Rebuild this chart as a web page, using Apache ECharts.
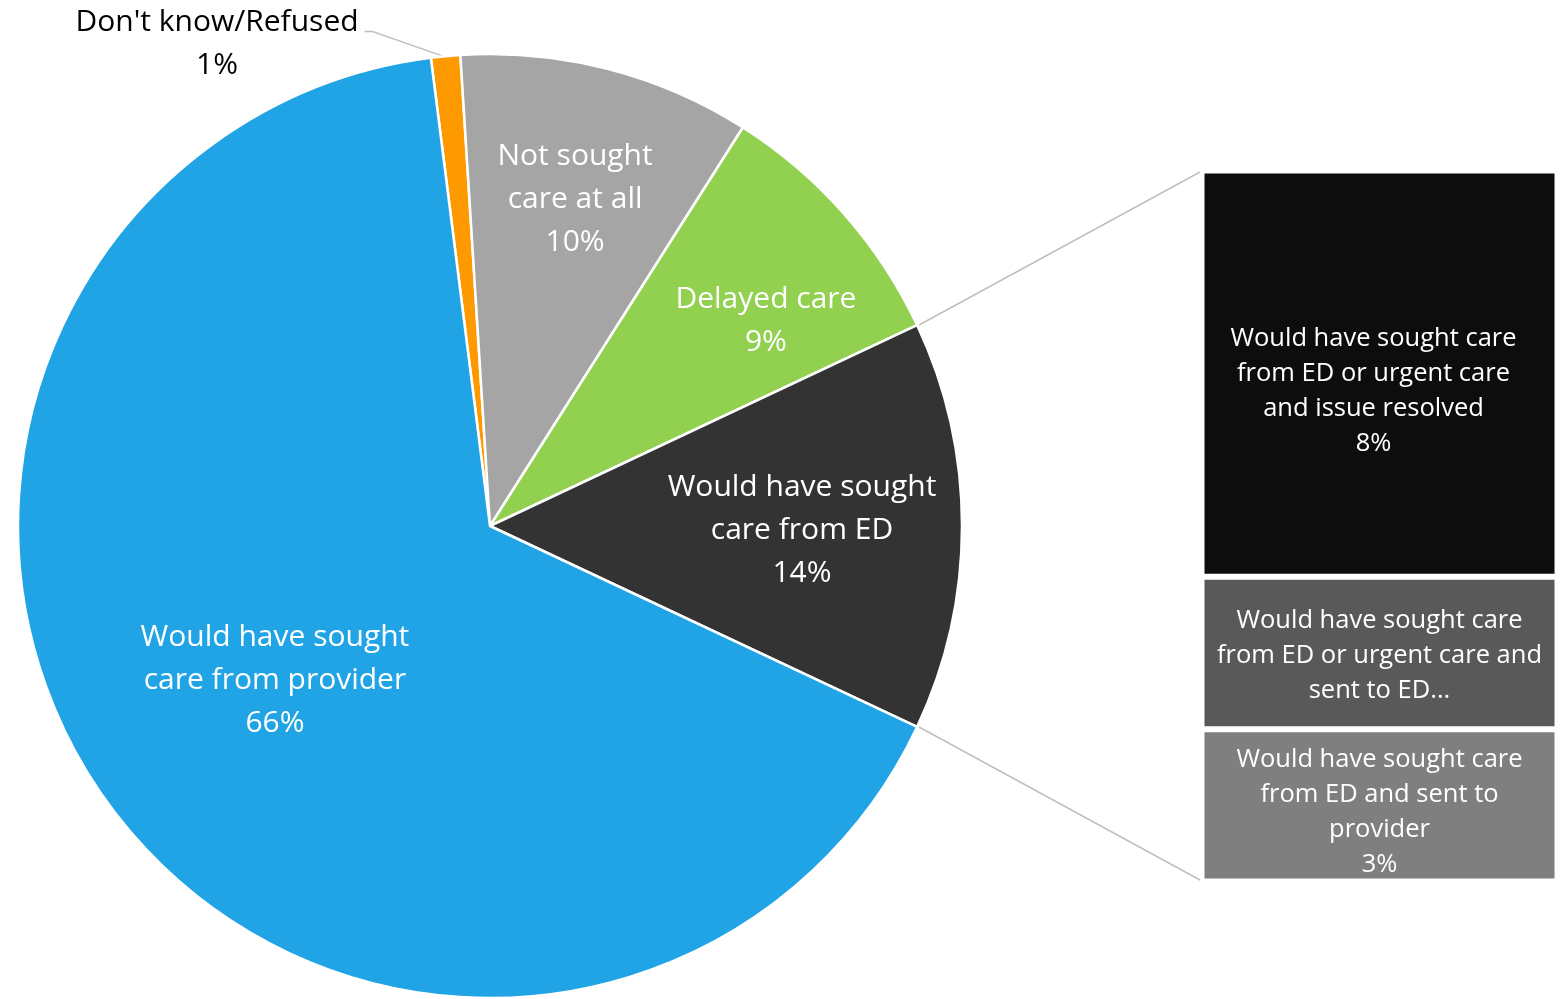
<!DOCTYPE html>
<html>
<head>
<meta charset="utf-8">
<script src="https://cdn.jsdelivr.net/npm/echarts@6/dist/echarts.min.js"></script>
<style>
  html, body { margin: 0; padding: 0; background: #fff; }
  #chart { width: 1562px; height: 999px; }
</style>
</head>
<body>
<div id="chart"></div>
<script>
// Pie slices, listed clockwise from the top
const pieNames = [
  "Don't know/Refused",
  'Not sought\ncare at all',
  'Delayed care',
  'Would have sought\ncare from ED',
  'Would have sought\ncare from provider'
];
const pieValues = [1, 10, 9, 14, 66];
const pieColors = ['#FF9900', '#A5A5A5', '#92D050', '#333333', '#20A4E6'];

// Breakdown of the ED slice, bottom to top
const barNames = [
  'Would have sought care\nfrom ED and sent to\nprovider',
  'Would have sought care\nfrom ED or urgent care and\nsent to ED...',
  'Would have sought care\nfrom ED or urgent care\nand issue resolved'
];
const barValues = [3, 3, 8];
const barColors = ['#7F7F7F', '#595959', '#0D0D0D'];
const barShowValue = [true, false, true];
const barLabelOffset = [[0, 7], [0, 3], [-6, 18]];

// Pie geometry
const CX = 490, CY = 526, R = 472;
const EXPLODED = 3; // index of the slice broken out into the bar
const startAngle = 97.2;

// Label placement: [radius fraction, angle in degrees (counter-clockwise from 3 o'clock)]
const pieLabelPlace = [
  [1.178, 119.4],
  [0.72, 75.5],
  [0.731, 36.9],
  [0.661, -0.4],
  [0.559, 215.4]
];
const LABEL_DY = 2;

const total = pieValues.reduce((a, b) => a + b, 0);
function sliceAngles(i) {
  let a = startAngle;
  for (let k = 0; k < i; k++) a -= pieValues[k] / total * 360;
  const b = a - pieValues[i] / total * 360;
  return [a, b];
}
function polar(r, deg) {
  const t = deg * Math.PI / 180;
  return [CX + r * Math.cos(t), CY - r * Math.sin(t)];
}

const FONT = '"Open Sans", "Noto Sans", sans-serif';
const chart = echarts.init(document.getElementById('chart'));

const pieData = pieNames.map((n, i) => ({
  name: n,
  value: pieValues[i],
  itemStyle: { color: pieColors[i] },
  label: i === 0
    ? { color: '#000', position: 'outside' }
    : { color: '#fff', position: 'inside' },
  labelLine: { show: i === 0 }
}));

const barSeries = barValues.map((v, i) => ({
  type: 'bar',
  stack: 'ed',
  barWidth: '100%',
  xAxisIndex: 0,
  yAxisIndex: 0,
  data: [v],
  itemStyle: { color: barColors[i], borderColor: '#fff', borderWidth: 3 },
  label: {
    show: true,
    position: 'inside',
    offset: barLabelOffset[i],
    color: '#fff',
    fontFamily: FONT,
    fontSize: 25.5,
    lineHeight: 35,
    align: 'center',
    formatter: () => barShowValue[i] ? barNames[i] + '\n' + v + '%' : barNames[i]
  },
  silent: true
}));

const GRID = { left: 1201.5, top: 170.5, width: 356, height: 711 };

chart.setOption({
  animation: false,
  backgroundColor: '#fff',
  grid: GRID,
  xAxis: { type: 'category', data: ['ED'], show: false },
  yAxis: { type: 'value', min: 0, max: 14, show: false },
  series: [
    {
      type: 'pie',
      center: [CX, CY],
      radius: [0, R],
      startAngle: startAngle,
      clockwise: true,
      silent: true,
      itemStyle: { borderColor: '#fff', borderWidth: 2.5 },
      label: {
        show: true,
        fontFamily: FONT,
        fontSize: 30,
        lineHeight: 43,
        align: 'center',
        formatter: p => p.name + '\n' + p.value + '%'
      },
      labelLine: { lineStyle: { color: '#BFBFBF', width: 1.5 }, smooth: false },
      labelLayout: function (p) {
        const i = p.dataIndex;
        const pl = pieLabelPlace[i];
        const pt = polar(R * pl[0], pl[1]);
        pt[1] += LABEL_DY;
        const out = { x: pt[0], y: pt[1], align: 'center', verticalAlign: 'middle' };
        if (i === 0) {
          const ang = sliceAngles(0);
          const edge = polar(R - 1, (ang[0] + ang[1]) / 2);
          const rightEnd = pt[0] + p.labelRect.width / 2 + 6;
          const lineY = pt[1] - 12;
          out.labelLinePoints = [edge, [rightEnd + 8, lineY], [rightEnd, lineY]];
        }
        return out;
      },
      data: pieData
    },
    ...barSeries
  ]
});

// Connector lines from the exploded slice to the top and bottom of the bar
const ang = sliceAngles(EXPLODED);
const pTop = polar(R, ang[0]);
const pBot = polar(R, ang[1]);
const yTop = chart.convertToPixel({ yAxisIndex: 0 }, 14);
const yBot = chart.convertToPixel({ yAxisIndex: 0 }, 0);
const xEdge = GRID.left - 1.5;
chart.setOption({
  graphic: [
    { type: 'line', shape: { x1: pTop[0] + 2, y1: pTop[1], x2: xEdge, y2: yTop + 1.5 }, style: { stroke: '#BFBFBF', lineWidth: 1.5 }, silent: true, z: 0 },
    { type: 'line', shape: { x1: pBot[0] + 2, y1: pBot[1], x2: xEdge, y2: yBot - 1.5 }, style: { stroke: '#BFBFBF', lineWidth: 1.5 }, silent: true, z: 0 }
  ]
});
</script>
</body>
</html>
